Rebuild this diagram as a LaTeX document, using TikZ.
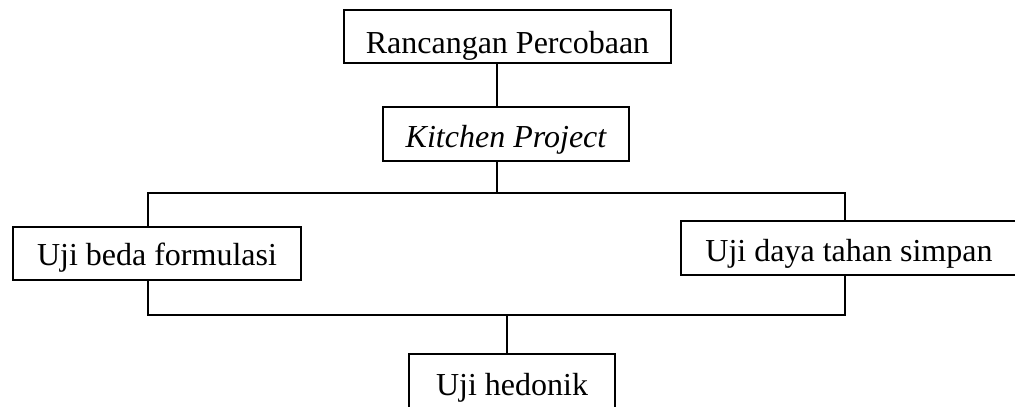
\documentclass[tikz,border=0pt]{standalone}
\usepackage{fontspec}
\setmainfont{Liberation Serif}
\begin{document}
\begin{tikzpicture}[x=1pt,y=-1pt,
  box/.style={draw,line width=2pt,inner sep=0pt,text height=27pt,text depth=0pt,
    font=\fontsize{32}{38}\selectfont},
  line/.style={line width=2pt}]
\useasboundingbox (0,0) rectangle (1015,407);
\clip (0,0) rectangle (1015,407);

\node [box,text height=33pt,minimum width=327pt,minimum height=53pt] (rancangan) at (507.5,36.5) {Rancangan Percobaan};
\node [box,minimum width=246pt,minimum height=54pt] (kitchen) at (506,134) {\itshape Kitchen Project};
\node [box,text height=24pt,minimum width=288pt,minimum height=53pt] (bedaform) at (157,253.5) {Uji beda formulasi};
\node [box,minimum width=336pt,minimum height=54pt] (dayasimpan) at (849,248) {Uji daya tahan simpan};
\node [box,minimum width=206pt,minimum height=56pt] (hedonik) at (512,382) {Uji hedonik};

\coordinate (split) at (497,193);
\coordinate (join) at (507,315);

\draw [line] ([xshift=-10.5pt]rancangan.south) -- ([xshift=-9pt]kitchen.north);
\draw [line] ([xshift=-9pt]kitchen.south) -- (split);
\draw [line] ([xshift=-9pt]bedaform.north) |- (split) -| ([xshift=-4pt]dayasimpan.north);
\draw [line] ([xshift=-9pt]bedaform.south) |- (join) -| ([xshift=-4pt]dayasimpan.south);
\draw [line] (join) -- ([xshift=-5pt]hedonik.north);

\end{tikzpicture}
\end{document}
